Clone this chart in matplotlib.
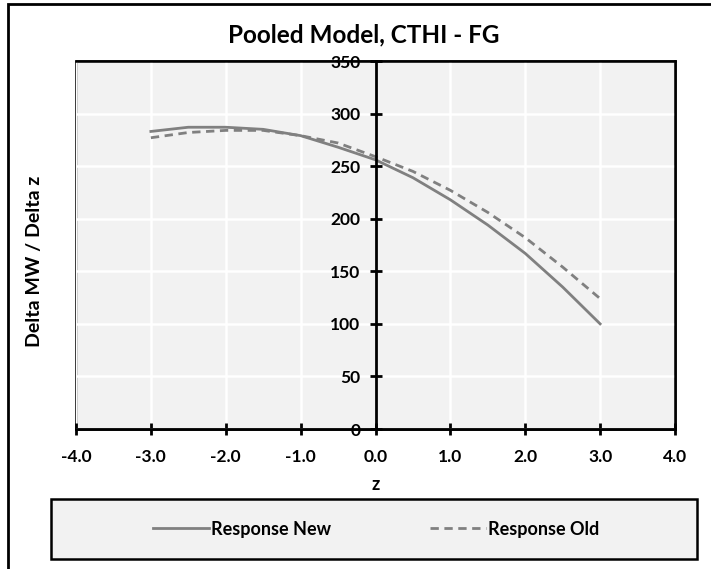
import numpy as np
import matplotlib
matplotlib.use("Agg")
import matplotlib.pyplot as plt
from matplotlib.patches import Rectangle

# Values
z = [-3.0, -2.5, -2.0, -1.5, -1.0, -0.5, 0.0, 0.5, 1.0, 1.5, 2.0, 2.5, 3.0]
response_new = [283, 287, 287, 285, 279, 268, 256, 239, 218, 194, 167, 135, 100]
response_old = [277, 282, 284, 284, 279, 272, 259, 245, 227, 206, 182, 154, 124]

x_ticks = np.arange(-4, 4.01, 1.0)
y_ticks = np.arange(0, 351, 50)

plt.rcParams['font.family'] = ['Lato', 'DejaVu Sans']
plt.rcParams['font.weight'] = 'bold'

W, H = 711, 569
fig = plt.figure(figsize=(W / 100, H / 100), dpi=100)

# outer chart border (only top and left edges visible in reference)
fig.patches.append(Rectangle((8 / W, -0.1), 1.2, 1 - 4 / H + 0.1, transform=fig.transFigure,
                             fill=False, edgecolor='black', linewidth=2))

ax = fig.add_axes([76 / W, 1 - 429 / H, (675 - 76) / W, (429 - 61) / H])
ax.set_facecolor('#F2F2F2')

ax.plot(z, response_new, '-', color='#808080', linewidth=2, label='Response New')
ax.plot(z, response_old, '--', color='#808080', linewidth=2, dashes=(3, 2), label='Response Old')

ax.set_xlim(-4, 4)
ax.set_ylim(0, 350)
ax.set_xticks(x_ticks)
ax.set_yticks(y_ticks)
ax.set_xticklabels(['{0:.1f}'.format(v) for v in x_ticks])
ax.grid(True, color='white', linewidth=1.8)
ax.set_axisbelow(True)

ax.spines['left'].set_position(('data', 0))
ax.spines['bottom'].set_position(('data', 0))
for s in ['left', 'bottom']:
    ax.spines[s].set_linewidth(2)
    ax.spines[s].set_zorder(3)
for s in ['top', 'right']:
    ax.spines[s].set_linewidth(1.8)
# left frame edge of the plot area
ax.patch.set_edgecolor('black')
ax.patch.set_linewidth(1.8)

ax.tick_params(axis='x', direction='inout', length=9, width=2, pad=10, labelsize=12.5)
ax.tick_params(axis='y', direction='inout', length=8, width=2, pad=7, labelsize=12.5)

fig.text(364 / W, 1 - 35 / H, 'Pooled Model, CTHI - FG', ha='center', va='center',
         fontsize=17.5, fontweight='bold')
fig.text(35 / W, 1 - 261 / H, 'Delta MW / Delta z', ha='center', va='center',
         rotation=90, fontsize=14, fontweight='bold')
fig.text(376 / W, 1 - 484 / H, 'z', ha='center', va='center', fontsize=13, fontweight='bold')

# legend box
fig.patches.append(Rectangle((51 / W, 1 - 559 / H), (697 - 51) / W, 60 / H,
                             transform=fig.transFigure, facecolor='#F2F2F2',
                             edgecolor='black', linewidth=1.8))
fig.legend(loc='center', bbox_to_anchor=(376 / W, 1 - 529 / H), ncol=2, frameon=False,
           prop={'size': 13, 'weight': 'bold'}, handlelength=3.1, handletextpad=0.1,
           columnspacing=5.5)

fig.savefig('out.png', dpi=100)
